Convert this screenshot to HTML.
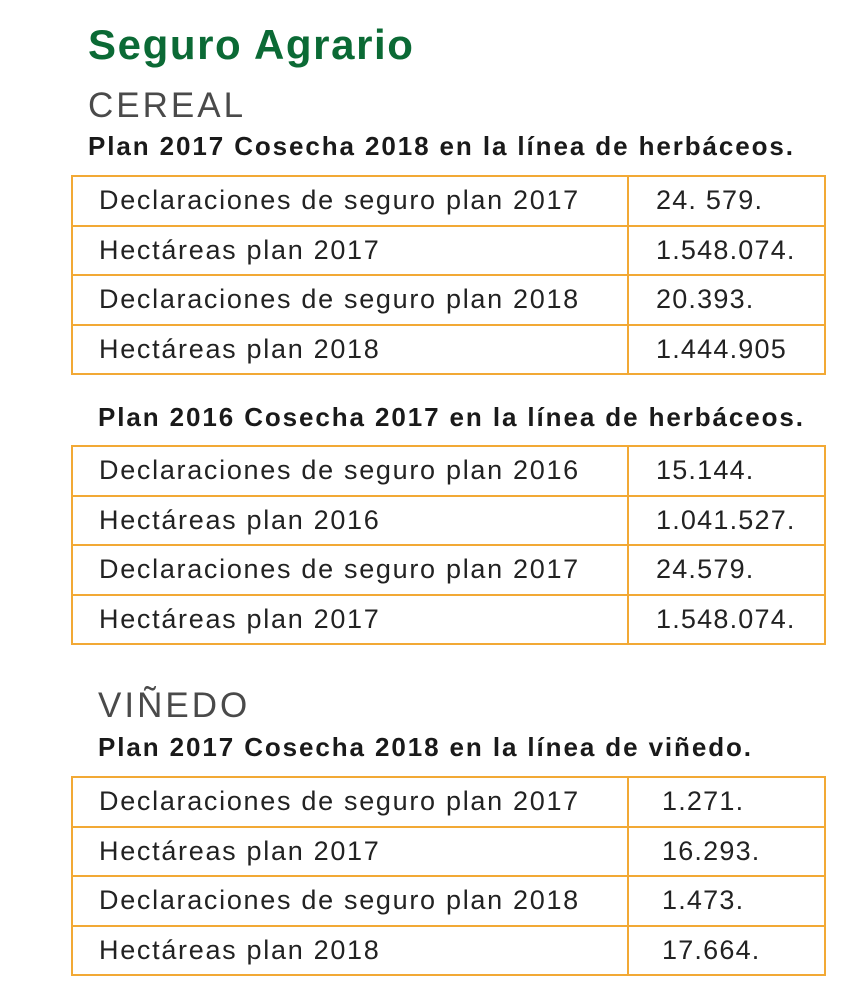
<!DOCTYPE html>
<html><head><meta charset="utf-8"><style>
body{margin:0;width:860px;height:1000px;background:#fff;position:relative;font-family:"Liberation Sans",sans-serif;overflow:hidden}
.a{position:absolute;white-space:nowrap}
h1{position:absolute;left:88px;top:21px;margin:0;font-size:42px;font-weight:bold;color:#0b6a35;letter-spacing:1.6px}
.sec{font-size:35px;color:#4a4a4a;letter-spacing:3px}
.hd{font-size:26px;font-weight:bold;color:#1a1a1a;letter-spacing:1.9px}
table{position:absolute;left:71px;width:755px;border-collapse:collapse;border:2px solid #f2a935}
td{border:2px solid #f2a935;height:47.5px;padding:0;font-size:27px;color:#222;letter-spacing:1.7px;white-space:nowrap}
td.l{width:528px;padding-left:26px}
td.r{padding-left:27px;letter-spacing:1.2px}
</style></head><body>
<h1>Seguro Agrario</h1>
<div class="a sec" style="left:88px;top:86px">CEREAL</div>
<div class="a hd" style="left:88px;top:131px">Plan 2017 Cosecha 2018 en la línea de herbáceos.</div>
<table style="top:175px">
<tr><td class="l">Declaraciones de seguro plan 2017</td><td class="r">24. 579.</td></tr>
<tr><td class="l">Hectáreas plan 2017</td><td class="r">1.548.074.</td></tr>
<tr><td class="l">Declaraciones de seguro plan 2018</td><td class="r">20.393.</td></tr>
<tr><td class="l">Hectáreas plan 2018</td><td class="r">1.444.905</td></tr>
</table>
<div class="a hd" style="left:98px;top:402px">Plan 2016 Cosecha 2017 en la línea de herbáceos.</div>
<table style="top:445px">
<tr><td class="l">Declaraciones de seguro plan 2016</td><td class="r">15.144.</td></tr>
<tr><td class="l">Hectáreas plan 2016</td><td class="r">1.041.527.</td></tr>
<tr><td class="l">Declaraciones de seguro plan 2017</td><td class="r">24.579.</td></tr>
<tr><td class="l">Hectáreas plan 2017</td><td class="r">1.548.074.</td></tr>
</table>
<div class="a sec" style="left:98px;top:686px">VIÑEDO</div>
<div class="a hd" style="left:98px;top:732px">Plan 2017 Cosecha 2018 en la línea de viñedo.</div>
<table style="top:776px">
<tr><td class="l">Declaraciones de seguro plan 2017</td><td class="r" style="padding-left:33px">1.271.</td></tr>
<tr><td class="l">Hectáreas plan 2017</td><td class="r" style="padding-left:33px">16.293.</td></tr>
<tr><td class="l">Declaraciones de seguro plan 2018</td><td class="r" style="padding-left:33px">1.473.</td></tr>
<tr><td class="l">Hectáreas plan 2018</td><td class="r" style="padding-left:33px">17.664.</td></tr>
</table>
</body></html>
